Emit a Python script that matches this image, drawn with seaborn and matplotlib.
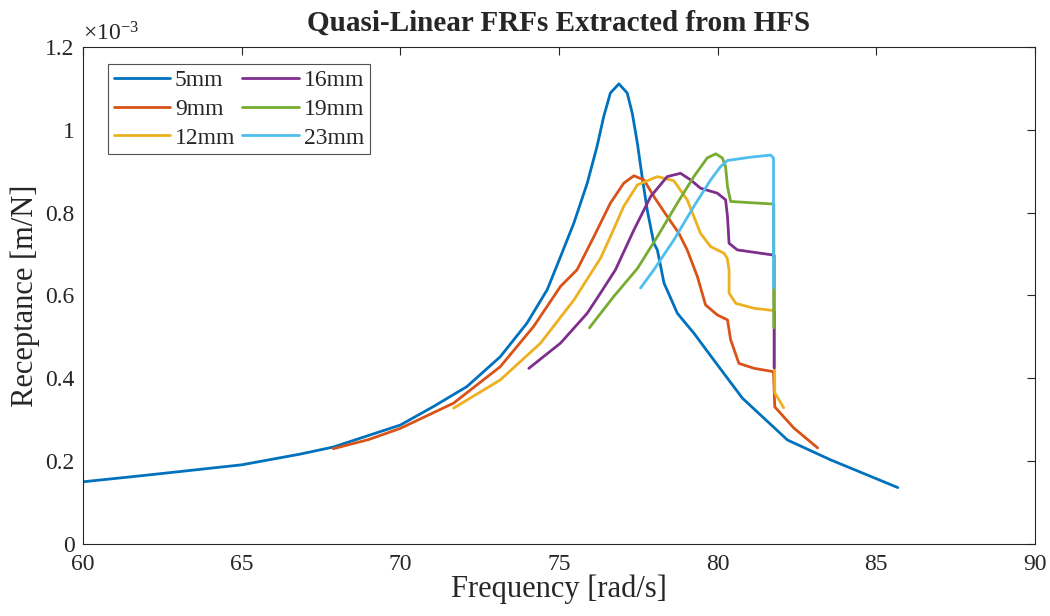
"""
Quasi-linear FRFs extracted from HFS, redrawn with seaborn.
"""
import matplotlib
matplotlib.use("Agg")
import matplotlib.pyplot as plt
from matplotlib.ticker import FuncFormatter
import pandas as pd
import seaborn as sns

# ==============================================================================
# DATA (receptance in units of 1e-3 m/N, frequency in rad/s)
# ==============================================================================
LABELS = ["5mm", "9mm", "12mm", "16mm", "19mm", "23mm"]
COLORS = ["#0072BD", "#D95319", "#EDB120", "#7E2F8E", "#77AC30", "#4DBEEE"]

freq_5 = [60.0, 62.0, 65.0, 66.85, 67.89, 70.0, 71.05, 72.1, 73.15, 73.99, 74.63,
          75.05, 75.47, 75.89, 76.2, 76.41, 76.62, 76.89, 77.15, 77.31, 77.47,
          77.62, 77.78, 77.99, 78.1, 78.31, 78.73, 79.25, 79.88, 80.78, 82.2,
          83.56, 85.68]
rec_5 = [0.150, 0.166, 0.191, 0.217, 0.234, 0.287, 0.332, 0.380, 0.452, 0.533, 0.614,
         0.694, 0.775, 0.871, 0.960, 1.032, 1.089, 1.111, 1.089, 1.040, 0.968,
         0.887, 0.807, 0.726, 0.710, 0.630, 0.557, 0.509, 0.444, 0.352, 0.251,
         0.203, 0.136]

freq_9 = [67.89, 69.0, 70.0, 71.68, 73.15, 74.2, 75.05, 75.57, 76.1, 76.62, 77.04,
          77.36, 77.68, 77.99, 78.41, 78.78, 79.04, 79.36, 79.62, 79.99, 80.31,
          80.41, 80.67, 81.15, 81.76, 81.8, 82.4, 83.15]
rec_9 = [0.230, 0.252, 0.279, 0.340, 0.428, 0.525, 0.622, 0.662, 0.742, 0.823, 0.871,
         0.889, 0.879, 0.839, 0.791, 0.750, 0.710, 0.646, 0.577, 0.553, 0.541,
         0.493, 0.436, 0.424, 0.416, 0.331, 0.280, 0.232]

freq_12 = [71.68, 73.15, 74.42, 75.47, 76.31, 76.62, 77.04, 77.47, 78.1, 78.62,
           79.04, 79.25, 79.46, 79.78, 80.2, 80.3, 80.36, 80.36, 80.57, 81.15,
           81.72, 81.79, 81.8, 82.08]
rec_12 = [0.328, 0.396, 0.485, 0.589, 0.690, 0.742, 0.815, 0.867, 0.887, 0.877,
          0.831, 0.791, 0.750, 0.718, 0.702, 0.690, 0.662, 0.606, 0.581, 0.569,
          0.564, 0.560, 0.365, 0.329]

freq_16 = [74.05, 75.05, 75.89, 76.31, 76.78, 77.36, 77.89, 78.41, 78.83, 79.15,
           79.46, 79.99, 80.25, 80.31, 80.36, 80.62, 81.72, 81.78, 81.78]
rec_16 = [0.424, 0.485, 0.557, 0.606, 0.662, 0.758, 0.839, 0.887, 0.895, 0.879,
          0.859, 0.847, 0.831, 0.791, 0.726, 0.710, 0.698, 0.697, 0.425]

freq_19 = [75.96, 76.72, 77.47, 78.1, 78.73, 79.25, 79.67, 79.94, 80.15, 80.25,
           80.31, 80.41, 81.04, 81.72, 81.77, 81.77]
rec_19 = [0.522, 0.597, 0.665, 0.742, 0.823, 0.887, 0.932, 0.942, 0.932, 0.911,
          0.863, 0.827, 0.824, 0.821, 0.820, 0.522]

freq_23 = [77.57, 77.99, 78.62, 79.25, 79.78, 80.09, 80.31, 81.04, 81.67, 81.76,
           81.76]
rec_23 = [0.618, 0.662, 0.734, 0.815, 0.879, 0.911, 0.926, 0.934, 0.939, 0.932,
          0.618]

FREQS = [freq_5, freq_9, freq_12, freq_16, freq_19, freq_23]
RECS = [rec_5, rec_9, rec_12, rec_16, rec_19, rec_23]


def build_frame():
    """Stacks each curve into one long table, keeping point order."""
    parts = []
    for label, f, r in zip(LABELS, FREQS, RECS):
        parts.append(pd.DataFrame({
            "Frequency": f,
            "Receptance": [v * 1e-3 for v in r],
            "Series": label,
        }))
    return pd.concat(parts, ignore_index=True)


def main():
    df = build_frame()

    sns.set_theme(style="white")
    plt.rcParams["font.family"] = ["Liberation Serif", "DejaVu Serif"]
    plt.rcParams["mathtext.fontset"] = "custom"
    plt.rcParams["mathtext.rm"] = "Liberation Serif"
    plt.rcParams["mathtext.it"] = "Liberation Serif:italic"

    fig = plt.figure(figsize=(10.5, 6.16), dpi=100)
    ax = fig.add_axes([0.079, 0.117, 0.9067, 0.8067])

    sns.lineplot(
        data=df, x="Frequency", y="Receptance", hue="Series",
        hue_order=LABELS, palette=COLORS, sort=False, estimator=None,
        linewidth=2, ax=ax,
    )

    ax.set_xlim(60, 90)
    ax.set_ylim(0, 1.2e-3)
    ax.set_xticks(range(60, 91, 5))
    ax.set_yticks([i * 0.2e-3 for i in range(7)])
    ax.yaxis.set_major_formatter(FuncFormatter(lambda v, _: f"{v * 1e3:g}"))
    ax.tick_params(direction="in", top=True, right=True, length=6,
                   width=0.8, labelsize=17, colors="#262626")
    ax.tick_params(axis="x", pad=7)
    ax.tick_params(axis="y", pad=6)
    for side in ax.spines.values():
        side.set_color("#262626")
        side.set_linewidth(0.8)

    ax.text(0.0, 1.004, r"$\times\mathrm{10}^{\mathrm{-3}}$", transform=ax.transAxes,
            fontsize=17, ha="left", va="bottom", color="#262626")

    ax.set_title("Quasi-Linear FRFs Extracted from HFS", fontsize=21,
                 fontweight="bold", pad=12)
    ax.set_xlabel("Frequency [rad/s]", fontsize=22, labelpad=0)
    ax.set_ylabel("Receptance [m/N]", fontsize=22, labelpad=4)

    ax.legend(loc="upper left", ncol=2, fontsize=17, frameon=True,
              fancybox=False, edgecolor="#262626", handlelength=2.4,
              columnspacing=0.3, handletextpad=0.2, labelspacing=0.3,
              borderpad=0.25, borderaxespad=0.0,
              bbox_to_anchor=(0.026, 0.966))
    ax.get_legend().get_frame().set_linewidth(0.8)

    fig.savefig("out.png", dpi=100)
    plt.close(fig)


if __name__ == "__main__":
    main()
